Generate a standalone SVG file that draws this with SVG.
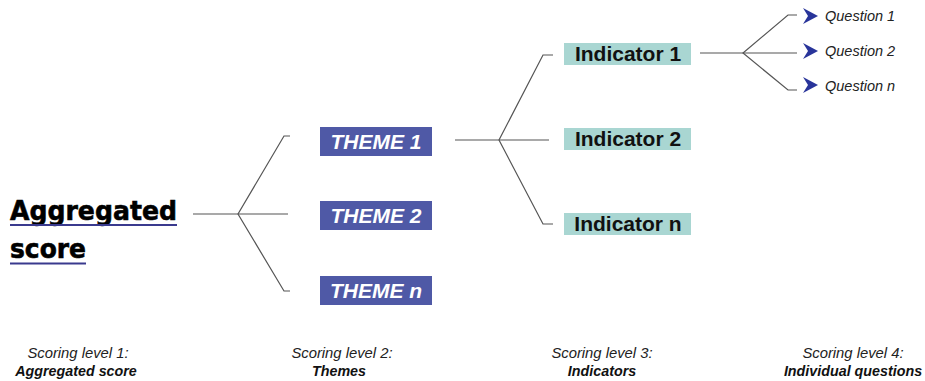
<svg xmlns="http://www.w3.org/2000/svg" width="925" height="381" viewBox="0 0 925 381">
<style>
.bg{fill:#ffffff}
.con{fill:none;stroke:#555555;stroke-width:1.2}
.theme rect{fill:#4f59a6}
.theme text{font-family:"Liberation Sans",Arial,sans-serif;font-weight:bold;font-style:italic;font-size:21px;fill:#ffffff;text-anchor:middle}
.ind rect{fill:#a9d6d2}
.ind text{font-family:"Liberation Sans",Arial,sans-serif;font-weight:bold;font-size:21px;fill:#111111;text-anchor:middle}
.q text{font-family:"Liberation Sans",Arial,sans-serif;font-style:italic;font-size:14.5px;fill:#222222}
.q polygon{fill:#28349a}
.agg text{font-family:"DejaVu Sans",Verdana,sans-serif;font-weight:bold;font-size:27px;fill:#000000;stroke:#000000;stroke-width:0.6}
.agg line{stroke:#3a3a8e;stroke-width:2}
.lbl text{font-family:"Liberation Sans",Arial,sans-serif;font-style:italic;font-size:14.8px;fill:#222222;text-anchor:middle}
.lbl .b{font-weight:bold;font-size:14.3px;fill:#111111}
</style>
<rect class="bg" x="0" y="0" width="925" height="381"/>
<g id="connectors">
  <path class="con" d="M193,214 H288"/>
  <path class="con" d="M290,136 H284 L238,214 L284,291 H290"/>
  <path class="con" d="M455,140 H549"/>
  <path class="con" d="M553,55 H543 L499,140 L543,224 H553"/>
  <path class="con" d="M700,53 H797"/>
  <path class="con" d="M797,15 H788 L743,53 L788,90 H797"/>
</g>
<g id="aggregated" class="agg">
  <text x="10" y="220" textLength="167" lengthAdjust="spacingAndGlyphs">Aggregated</text>
  <line x1="10" y1="225" x2="177" y2="225"/>
  <text x="10" y="257.5" textLength="76" lengthAdjust="spacingAndGlyphs">score</text>
  <line x1="10" y1="263.5" x2="86" y2="263.5"/>
</g>
<g id="theme1" class="theme"><rect x="320" y="127" width="112" height="29"/><text x="376" y="149">THEME 1</text></g>
<g id="theme2" class="theme"><rect x="320" y="201" width="112" height="29"/><text x="376" y="223">THEME 2</text></g>
<g id="themen" class="theme"><rect x="320" y="276" width="112" height="29"/><text x="376" y="298">THEME n</text></g>
<g id="indicator1" class="ind"><rect x="564" y="43" width="127" height="22"/><text x="628" y="61">Indicator 1</text></g>
<g id="indicator2" class="ind"><rect x="564" y="128" width="127" height="22"/><text x="628" y="146">Indicator 2</text></g>
<g id="indicatorn" class="ind"><rect x="564" y="213" width="127" height="22"/><text x="628" y="231">Indicator n</text></g>
<g id="question1" class="q"><polygon points="803,8 818,16 803,24 808,16"/><text x="825" y="21">Question 1</text></g>
<g id="question2" class="q"><polygon points="803,43 818,51 803,59 808,51"/><text x="825" y="56">Question 2</text></g>
<g id="questionn" class="q"><polygon points="803,77 818,85 803,93 808,85"/><text x="825" y="90.5">Question n</text></g>
<g id="label1" class="lbl"><text x="78" y="358">Scoring level 1:</text><text class="b" x="76" y="376">Aggregated score</text></g>
<g id="label2" class="lbl"><text x="342" y="358">Scoring level 2:</text><text class="b" x="339" y="376">Themes</text></g>
<g id="label3" class="lbl"><text x="602" y="358">Scoring level 3:</text><text class="b" x="602" y="376">Indicators</text></g>
<g id="label4" class="lbl"><text x="853" y="358">Scoring level 4:</text><text class="b" x="853" y="376">Individual questions</text></g>
</svg>
